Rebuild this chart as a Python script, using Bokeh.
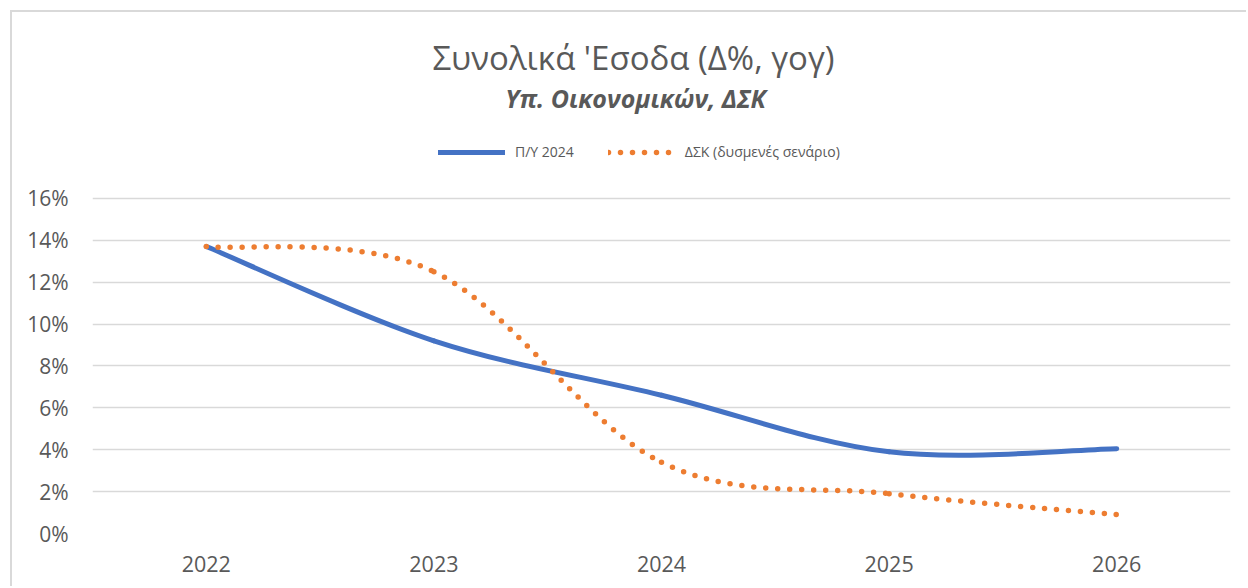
from bokeh.plotting import figure
from bokeh.models import (Legend, LegendItem, Label, FixedTicker, Range1d,
                          ColumnDataSource)
from bokeh.embed import file_html
from bokeh.resources import INLINE

# ---- data ----
years = [2022, 2023, 2024, 2025, 2026]
budget_2024 = [13.7, 9.2, 6.6, 3.9, 4.05]          # Π/Υ 2024
dsk_adverse = [13.7, 12.5, 3.4, 1.9, 0.9]          # ΔΣΚ (δυσμενές σενάριο)
y_ticks = [0, 2, 4, 6, 8, 10, 12, 14, 16]
y_tick_labels = ["0%", "2%", "4%", "6%", "8%", "10%", "12%", "14%", "16%"]
x_tick_labels = ["2022", "2023", "2024", "2025", "2026"]
series_names = ["Π/Υ 2024", "ΔΣΚ (δυσμενές σενάριο)"]
title_text = "Συνολικά 'Εσοδα (Δ%, γογ)"
subtitle_text = "Υπ. Οικονομικών, ΔΣΚ"

BLUE = "#4472C4"
ORANGE = "#ED7D31"
GREY = "#595959"
GRID = "#D9D9D9"
FONT = "Open Sans"

# ---- layout (page pixels) ----
OFF = 12                  # figure origin (after the chart border)
FRAME_TOP = OFF
FRAME_LEFT = 92
FRAME_RIGHT = 1230
GRID_TOP = 197.7          # pixel row of 16%
ZERO = 532.7              # pixel row of 0%
px_per_unit = (ZERO - GRID_TOP) / y_ticks[-1]
y_max = y_ticks[-1] + (GRID_TOP - FRAME_TOP) / px_per_unit
x_lo = years[0] - 0.5
px_per_year = (FRAME_RIGHT - FRAME_LEFT) / len(years)


def to_data_y(page_y):
    return (ZERO - page_y) / px_per_unit


def to_data_x(page_x):
    return x_lo + (page_x - FRAME_LEFT) / px_per_year


def smooth_segments(xs, ys):
    """Cubic Bezier segments (Excel-like smoothed line) through the data points."""
    n = len(xs)
    d = dict(x0=[], y0=[], x1=[], y1=[], cx0=[], cy0=[], cx1=[], cy1=[])
    for i in range(n - 1):
        ip = i - 1 if i > 0 else i
        inn = i + 2 if i + 2 < n else i + 1
        d["x0"].append(xs[i]); d["y0"].append(ys[i])
        d["x1"].append(xs[i + 1]); d["y1"].append(ys[i + 1])
        d["cx0"].append(xs[i] + (xs[i + 1] - xs[ip]) / 6)
        d["cy0"].append(ys[i] + (ys[i + 1] - ys[ip]) / 6)
        d["cx1"].append(xs[i + 1] - (xs[inn] - xs[i]) / 6)
        d["cy1"].append(ys[i + 1] - (ys[inn] - ys[i]) / 6)
    return ColumnDataSource(d)


W = 1248 - OFF
p = figure(width=W, height=588 - OFF, output_backend="svg",
           toolbar_location=None, title=None,
           x_range=Range1d(x_lo, years[-1] + 0.5),
           y_range=Range1d(0, y_max),
           min_border_left=FRAME_LEFT - OFF,
           min_border_right=W - (FRAME_RIGHT - OFF), min_border_top=0,
           min_border_bottom=55)
p.styles = {"margin-left": f"{OFF}px", "margin-top": f"{OFF}px",
            "box-shadow": "-2px -2px 0 0 #D9D9D9"}
p.outline_line_color = None
p.background_fill_color = "white"
p.border_fill_color = "white"

# titles
p.add_layout(Label(x=to_data_x(633), y=to_data_y(57), text=title_text,
                   text_align="center", text_baseline="middle",
                   text_font=FONT, text_font_size="33px",
                   text_color=GREY))
p.add_layout(Label(x=to_data_x(635), y=to_data_y(97), text=subtitle_text,
                   text_align="center", text_baseline="middle",
                   text_font=FONT, text_font_size="25px",
                   text_font_style="bold italic", text_color=GREY))

# lines
blue_src = smooth_segments(years, budget_2024)
orange_src = smooth_segments(years, dsk_adverse)
rb = p.bezier(x0="x0", y0="y0", x1="x1", y1="y1", cx0="cx0", cy0="cy0",
              cx1="cx1", cy1="cy1", source=blue_src, line_color=BLUE,
              line_width=5, line_cap="round")
ro = p.bezier(x0="x0", y0="y0", x1="x1", y1="y1", cx0="cx0", cy0="cy0",
              cx1="cx1", cy1="cy1", source=orange_src, line_color=ORANGE,
              line_width=5.5, line_cap="round", line_dash="0 12")

legend = Legend(items=[LegendItem(label=series_names[0], renderers=[rb]),
                       LegendItem(label=series_names[1], renderers=[ro])],
                orientation="horizontal",
                location=(438 - FRAME_LEFT, int(ZERO - 151 - 9)),
                label_text_font=FONT, label_text_font_size="14px",
                label_text_color=GREY, glyph_width=67, glyph_height=14,
                spacing=34, label_standoff=10, border_line_color=None,
                background_fill_alpha=0, margin=0, padding=0)
p.add_layout(legend, "center")

# axes
p.xaxis.ticker = FixedTicker(ticks=years)
p.xaxis.major_label_overrides = {y: l for y, l in zip(years, x_tick_labels)}
p.yaxis.ticker = FixedTicker(ticks=y_ticks)
p.yaxis.major_label_overrides = {t: l for t, l in zip(y_ticks, y_tick_labels)}
for ax in (p.xaxis, p.yaxis):
    ax.axis_line_color = None
    ax.major_tick_line_color = None
    ax.minor_tick_line_color = None
    ax.major_label_text_font = FONT
    ax.major_label_text_color = GREY
p.xaxis.major_label_text_font_size = "21.5px"
p.yaxis.major_label_text_font_size = "21px"
p.yaxis.major_label_standoff = 18
p.xaxis.major_label_standoff = 16
p.xgrid.grid_line_color = None
p.ygrid.grid_line_color = GRID
p.ygrid.grid_line_width = 1.5

open("out.html", "w").write(file_html(p, INLINE))
